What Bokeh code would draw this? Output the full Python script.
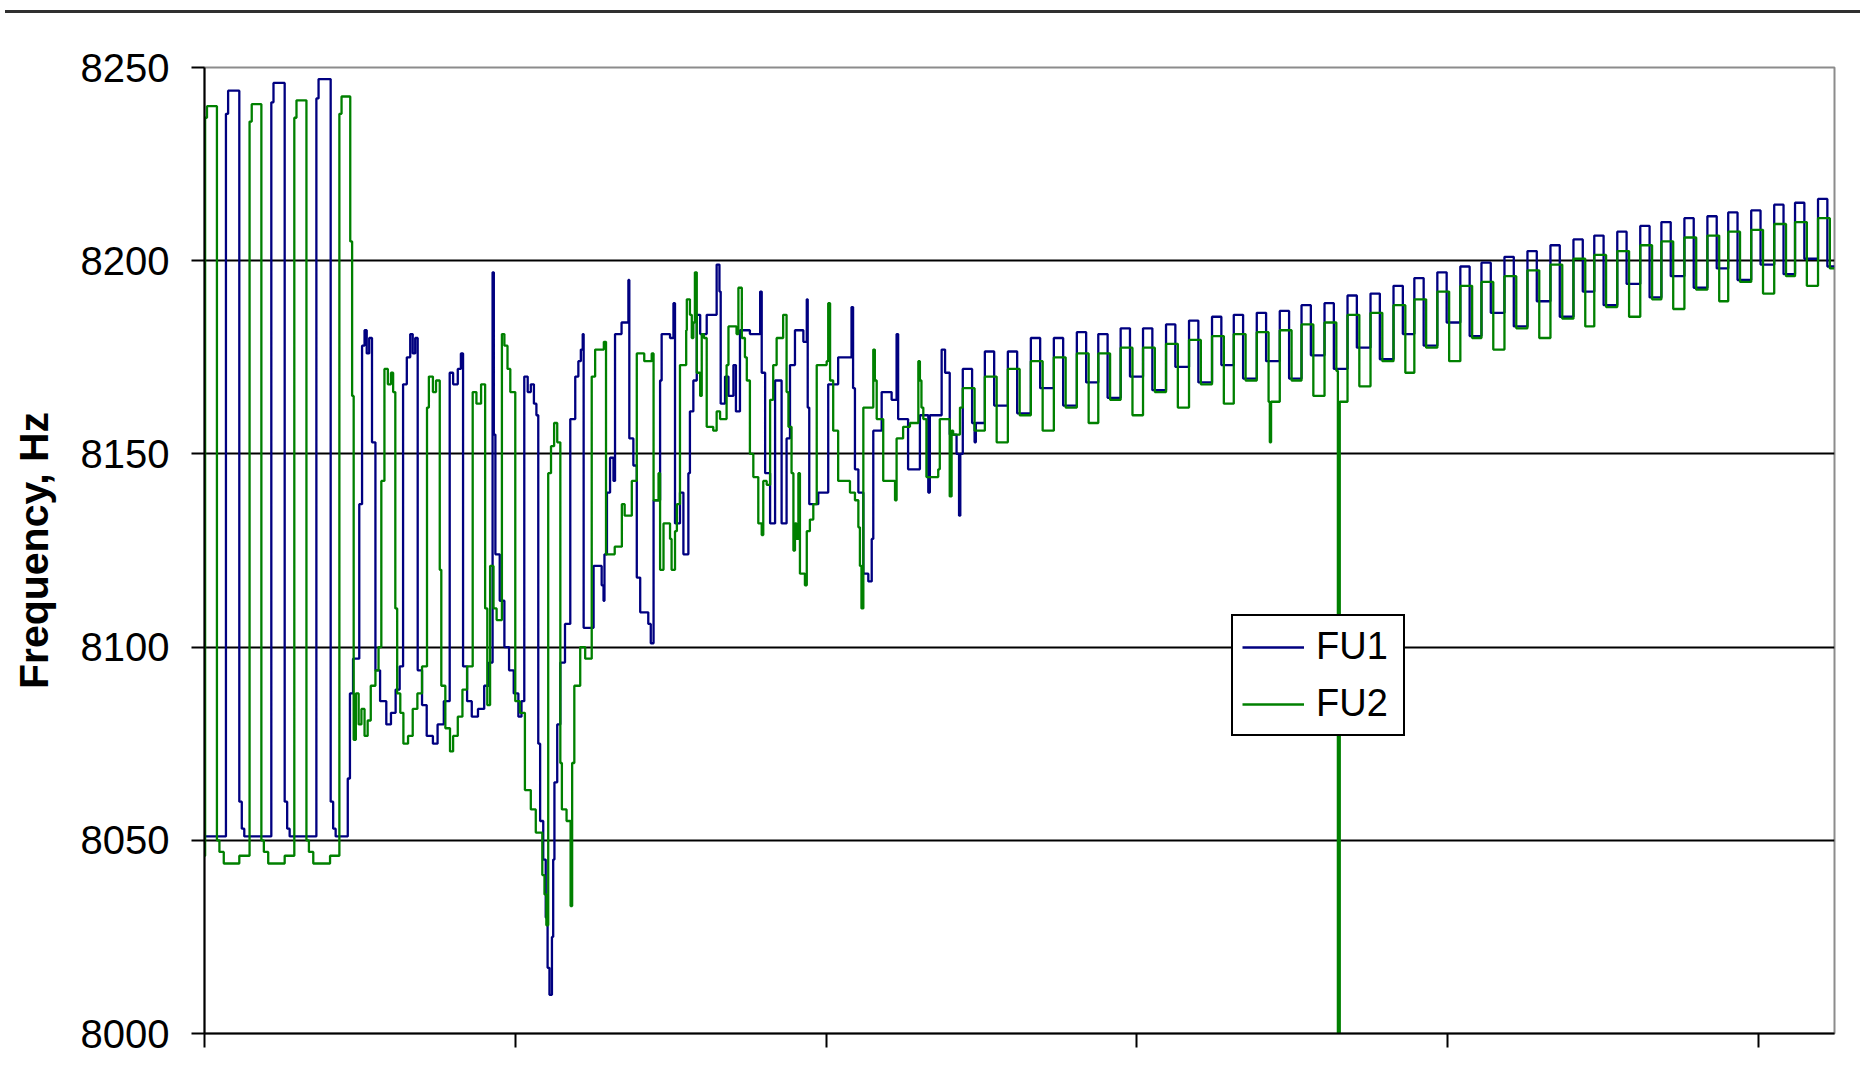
from bokeh.plotting import figure
from bokeh.models import Range1d, FixedTicker, Legend, LegendItem, Div
from bokeh.layouts import column
from bokeh.embed import file_html
from bokeh.resources import INLINE

# ---------------- data (sample index, Hz) ----------------
y_ticks = [8000, 8050, 8100, 8150, 8200, 8250]
x_ticks = [0, 1000, 2000, 3000, 4000, 5000]
x_end = 5245

series_names = ["FU1", "FU2"]

# FU1: first part (irregular), step vertices
fu1_x = [0, 69, 76, 112, 120, 128, 215, 222, 258, 266, 274, 360, 367, 406, 414, 422,
         461, 468, 478, 498, 507, 515, 522, 530, 539, 550, 565, 585, 600, 615, 628,
         639, 651, 662, 670, 678, 686, 700, 715, 735, 750, 770, 789, 800, 815, 825,
         832, 845, 860, 880, 900, 915, 927, 931, 936, 950, 965, 980, 995, 1010, 1020,
         1029, 1040, 1050, 1060, 1068, 1074, 1080, 1090, 1098, 1104, 1110, 1118, 1122,
         1126, 1135, 1145, 1160, 1177, 1193, 1203, 1211, 1217, 1220, 1252, 1278, 1284,
         1287, 1295, 1305, 1316, 1321, 1342, 1364, 1367, 1380, 1391, 1402, 1428, 1436,
         1445, 1466, 1471, 1498, 1509, 1514, 1530, 1541, 1557, 1562, 1573, 1584, 1595,
         1616, 1648, 1657, 1661, 1675, 1686, 1702, 1710, 1723, 1755, 1788, 1793, 1804,
         1820, 1836, 1857, 1873, 1884, 1900, 1927, 1938, 1941, 1946, 1975, 2007, 2039,
         2082, 2087, 2093, 2104, 2120, 2136, 2147, 2152, 2179, 2211, 2227, 2232, 2264,
         2302, 2329, 2334, 2372, 2383, 2398, 2420, 2428, 2432]
fu1_y = [8051, 8238, 8244, 8060, 8053, 8051, 8241, 8246, 8060, 8053, 8051, 8242, 8247, 8060, 8053, 8051,
         8066, 8088, 8097, 8137, 8178, 8182, 8176, 8180, 8153, 8094, 8086, 8080, 8083, 8089, 8095,
         8168, 8175, 8181, 8176, 8180, 8094, 8085, 8077, 8075, 8080, 8086, 8171, 8168, 8172, 8176,
         8095, 8086, 8082, 8084, 8090, 8096, 8197, 8155, 8124, 8112, 8100, 8094, 8088, 8082, 8086,
         8170, 8166, 8168, 8163, 8160, 8075, 8055, 8045, 8030, 8017, 8010, 8025, 8045,
         8065, 8080, 8096, 8106, 8159, 8170, 8174, 8177, 8181, 8105, 8121, 8116, 8112,
         8124, 8140, 8149, 8143, 8181, 8184, 8195, 8154, 8147, 8118, 8109, 8106, 8101,
         8138, 8169, 8181, 8180, 8189, 8132, 8140, 8124, 8145, 8161, 8169, 8186, 8181,
         8186, 8199, 8192, 8163, 8170, 8165, 8173, 8161, 8182, 8181, 8192, 8171, 8145,
         8132, 8169, 8132, 8154, 8173, 8182, 8179, 8190, 8162, 8137, 8140, 8168, 8175,
         8188, 8167, 8146, 8140, 8119, 8117, 8128, 8156, 8166, 8164, 8181, 8159, 8146,
         8160, 8140, 8160, 8177, 8171, 8155, 8150, 8134, 8150]

# FU2: first part (irregular), step vertices
fu2_x = [0, 2, 8, 40, 48, 62, 112, 145, 152, 183, 191, 205, 258, 289, 296, 328, 336, 350,
         404, 434, 441, 469, 475, 480, 487, 496, 505, 515, 525, 535, 550, 560, 569, 579,
         590, 600, 607, 614, 620, 630, 640, 655, 670, 685, 700, 716, 722, 735, 745, 757,
         762, 775, 790, 800, 815, 830, 845, 863, 875, 890, 903, 910, 919, 930, 940, 957,
         965, 975, 984, 1000, 1015, 1031, 1050, 1066, 1087, 1094, 1100, 1106, 1115, 1125,
         1135, 1145, 1150, 1165, 1178, 1183, 1190, 1209, 1225, 1246, 1257, 1285, 1292,
         1320, 1343, 1352, 1375, 1391, 1415, 1439, 1445, 1461, 1466, 1477, 1498, 1503,
         1514, 1520, 1530, 1550, 1552, 1562, 1568, 1573, 1578, 1584, 1595, 1600, 1607,
         1616, 1637, 1648, 1659, 1680, 1686, 1712, 1718, 1729, 1739, 1745, 1755, 1766,
         1782, 1793, 1798, 1809, 1820, 1830, 1841, 1862, 1873, 1879, 1889, 1895, 1900,
         1905, 1911, 1916, 1932, 1938, 1948, 1959, 1970, 2002, 2007, 2013, 2023, 2039,
         2077, 2093, 2104, 2109, 2114, 2120, 2152, 2157, 2163, 2184, 2222, 2227, 2248,
         2270, 2297, 2302, 2307, 2313, 2323, 2361, 2366, 2398, 2404, 2409, 2431]
fu2_y = [8046, 8237, 8240, 8050, 8047, 8044, 8046, 8236, 8240.5, 8050, 8047, 8044, 8046, 8237, 8241.5, 8050, 8047, 8044,
         8046, 8238, 8242.5, 8205, 8165, 8076, 8088, 8080, 8084, 8077, 8081, 8090, 8094, 8100, 8143, 8172,
         8168, 8171, 8166, 8110, 8088, 8083, 8075, 8077, 8084, 8088, 8095, 8162, 8170, 8166, 8169, 8120,
         8090, 8079, 8073, 8077, 8082, 8089, 8095, 8166, 8163, 8168, 8110, 8085, 8121, 8110, 8107, 8181,
         8178, 8172, 8166, 8086, 8083, 8063, 8058, 8052, 8041, 8036, 8028, 8145, 8152, 8158,
         8153, 8070, 8058, 8055, 8033, 8070, 8090, 8100, 8097, 8170, 8177, 8179, 8124,
         8126, 8137, 8134, 8143, 8176, 8174, 8176, 8138, 8145, 8120, 8132, 8128, 8120,
         8130, 8137, 8173, 8182, 8190, 8186, 8180, 8184, 8197, 8171, 8165, 8181, 8180,
         8157, 8156, 8161, 8159, 8173, 8183, 8181, 8193, 8180, 8175, 8169, 8150, 8144,
         8132, 8129, 8143, 8142, 8164, 8173, 8180, 8186, 8166, 8157, 8145, 8125, 8132,
         8128, 8145, 8119, 8116, 8130, 8133, 8137, 8173, 8174, 8189, 8169, 8156, 8143,
         8140, 8138, 8131, 8121, 8110, 8162, 8177, 8169, 8159, 8143, 8138, 8154, 8157,
         8158, 8174, 8169, 8162, 8159, 8144, 8146, 8159, 8139, 8156, 8155, 8162]

# Regular part: one entry per switching cycle
cycle_start = [2440, 2511, 2585, 2659, 2733, 2807, 2876, 2948, 3020, 3094, 3168, 3242, 3312,
               3386, 3460, 3530, 3604, 3678, 3752, 3826, 3893, 3967, 4041, 4109, 4183, 4257,
               4331, 4405, 4472, 4546, 4620, 4688, 4762, 4836, 4903, 4977, 5051, 5118, 5192]
fu1_high = [8172, 8176.5, 8176.5, 8180, 8180, 8181.5, 8181, 8182.5, 8182.5, 8183.5, 8184.5, 8185.5, 8186,
            8186.5, 8187, 8188.5, 8189, 8191, 8191.5, 8193.5, 8195.5, 8197, 8198.5, 8199.5, 8201, 8202.5,
            8204, 8205.5, 8206.5, 8207.5, 8209, 8210, 8211, 8211.5, 8212.5, 8213, 8214.5, 8215, 8216]
fu1_low = [8158, 8162.5, 8160.5, 8167, 8162.5, 8168.5, 8164.5, 8170, 8166.5, 8172.5, 8168.5, 8173, 8169.5,
           8174, 8169.5, 8175.5, 8172, 8177.5, 8174.5, 8181, 8178, 8184, 8180.5, 8186.5, 8183, 8189.5,
           8185.5, 8192, 8188.5, 8194, 8190.5, 8196, 8193, 8198, 8195, 8199, 8196.5, 8200.5, 8198.5]
fu2_high = [8167, 8170, 8172, 8174, 8175, 8176, 8176, 8177.5, 8177.5, 8178.5, 8179.5, 8180.5, 8181,
            8181.5, 8182, 8183.5, 8184, 8186, 8186.5, 8188.5, 8190, 8192, 8193.5, 8194.5, 8196, 8197.5,
            8199, 8200.5, 8201.5, 8202.5, 8204, 8205, 8206, 8206.5, 8207.5, 8208, 8209.5, 8210, 8211]
fu2_low = [8156, 8153, 8160, 8156, 8162, 8158, 8164, 8160, 8166, 8162, 8168, 8163, 8169,
           8163.5, 8169, 8165, 8171.5, 8167.5, 8174, 8171, 8177.5, 8174, 8180, 8177, 8182.5, 8180,
           8185, 8183, 8188, 8185.5, 8190, 8187.5, 8192.5, 8189.5, 8194.5, 8191.5, 8196, 8193.5, 8198]
fu1_high_len = 30
fu2_high_len = 38

# short excursions (start, end, value)
fu1_spikes = [(2478, 2482, 8153)]
fu2_spikes = [(3428, 3432, 8153), (3647, 3653, 8000)]


def cycles_to_steps(starts, highs, lows, high_len, end):
    xs, ys = [], []
    for s, h, l in zip(starts, highs, lows):
        xs += [s, s + high_len]
        ys += [h, l]
    xs.append(end)
    ys.append(lows[-1])
    return xs, ys


def add_spikes(xs, ys, spikes):
    xs, ys = list(xs), list(ys)
    for x0, x1, v in spikes:
        lvl = ys[0]
        for x, y in zip(xs, ys):
            if x <= x1:
                lvl = y
        xs += [x0, x1]
        ys += [v, lvl]
    order = sorted(range(len(xs)), key=lambda i: xs[i])
    return [xs[i] for i in order], [ys[i] for i in order]


b_cx, b_cy = cycles_to_steps(cycle_start, fu1_high, fu1_low, fu1_high_len, x_end)
g_cx, g_cy = cycles_to_steps(cycle_start, fu2_high, fu2_low, fu2_high_len, x_end)
bx, by = add_spikes(fu1_x + b_cx, fu1_y + b_cy, fu1_spikes)
gx, gy = add_spikes(fu2_x + g_cx, fu2_y + g_cy, fu2_spikes)

# ---------------- figure ----------------
FONT = "Liberation Sans"

p = figure(width=1860, height=1070,
           x_range=Range1d(0, x_end), y_range=Range1d(8000, 8250),
           output_backend="svg", toolbar_location=None,
           min_border_left=204, min_border_right=26,
           min_border_top=49, min_border_bottom=55)
p.background_fill_color = "white"
p.border_fill_color = "white"
p.outline_line_color = "#8c8c8c"
p.outline_line_width = 2

r1 = p.step(bx, by, mode="after", line_color="#000080", line_width=2.3)
r2 = p.step(gx, gy, mode="after", line_color="#008000", line_width=2.3)

# y axis
p.yaxis.ticker = FixedTicker(ticks=y_ticks)
p.yaxis.major_tick_out = 13
p.yaxis.major_tick_in = 0
p.yaxis.minor_tick_line_color = None
p.yaxis.axis_line_color = "black"
p.yaxis.axis_line_width = 2
p.yaxis.major_tick_line_color = "black"
p.yaxis.major_tick_line_width = 2
p.yaxis.major_label_text_font = FONT
p.yaxis.major_label_text_font_size = "40px"
p.yaxis.major_label_text_color = "black"
p.yaxis.major_label_standoff = 22
p.yaxis.axis_label = "Frequency, Hz"
p.yaxis.axis_label_text_font = FONT
p.yaxis.axis_label_text_font_size = "41px"
p.yaxis.axis_label_text_font_style = "bold"
p.yaxis.axis_label_text_color = "black"
p.yaxis.axis_label_standoff = 21

# x axis (ticks only)
p.xaxis.ticker = FixedTicker(ticks=x_ticks)
p.xaxis.major_tick_out = 14
p.xaxis.major_tick_in = 0
p.xaxis.minor_tick_line_color = None
p.xaxis.axis_line_color = "black"
p.xaxis.axis_line_width = 2
p.xaxis.major_tick_line_color = "black"
p.xaxis.major_tick_line_width = 2
p.xaxis.major_label_overrides = {t: "" for t in x_ticks}
p.xaxis.major_label_text_font_size = "1px"

# grid
p.xgrid.visible = False
p.ygrid.ticker = FixedTicker(ticks=[8050, 8100, 8150, 8200])
p.ygrid.grid_line_color = "black"
p.ygrid.grid_line_width = 2

legend = Legend(items=[LegendItem(label=series_names[0], renderers=[r1]),
                       LegendItem(label=series_names[1], renderers=[r2])],
                location=(1027, 297), orientation="vertical",
                label_text_font=FONT, label_text_font_size="38px", label_text_color="black",
                glyph_width=62, glyph_height=42, label_height=42, label_width=78,
                label_standoff=12, spacing=14, padding=9, margin=0,
                border_line_color="black", border_line_width=2, border_line_alpha=1.0,
                background_fill_color="white", background_fill_alpha=1.0)
p.add_layout(legend)

top_rule = Div(text="", width=1860, height=8,
               styles={"border-bottom": "3px solid #303030", "box-sizing": "border-box"})

layout = column(top_rule, p, spacing=0)

open("out.html", "w").write(file_html(layout, INLINE))
